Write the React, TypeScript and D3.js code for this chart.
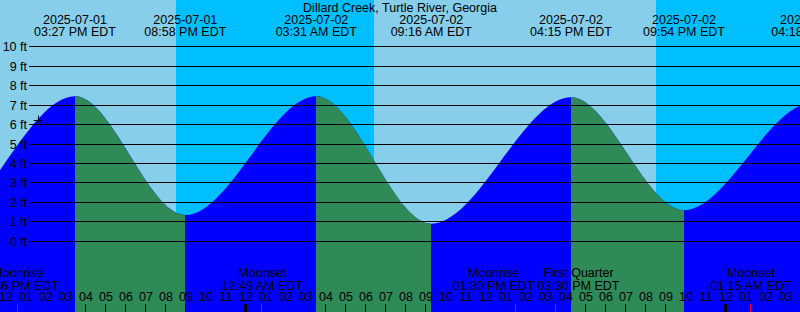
import React from "react";
import * as d3 from "d3";

const W = 800;
const H = 312;

const title = "Dillard Creek, Turtle River, Georgia";
const domainStart = "2025-07-01 11:42";
const domainEnd = "2025-07-03 03:42";

// Tide extremes (EDT)
const tideTimes = [
  "2025-07-01 02:05",
  "2025-07-01 08:15",
  "2025-07-01 15:27",
  "2025-07-01 20:58",
  "2025-07-02 03:31",
  "2025-07-02 09:16",
  "2025-07-02 16:15",
  "2025-07-02 21:54",
  "2025-07-03 04:18",
  "2025-07-03 10:30",
];
const tideHeights = [7.3, 0.3, 7.45, 1.35, 7.45, 0.9, 7.4, 1.6, 7.1, 0.8];

// Moon events
const moonTimes = [
  "2025-07-01 12:36",
  "2025-07-02 00:49",
  "2025-07-02 13:30",
  "2025-07-02 15:30",
  "2025-07-03 01:15",
];
const moonNames = ["Moonrise", "Moonset", "Moonrise", "First Quarter", "Moonset"];

// Sun
const sunsetTimes = ["2025-07-01 20:30", "2025-07-02 20:30"];
const sunriseTimes = ["2025-07-02 06:24", "2025-07-03 06:25"];

const heightTicks = [0, 1, 2, 3, 4, 5, 6, 7, 8, 9, 10];
const nowTime = "2025-07-01 13:35";

const parse = d3.utcParse("%Y-%m-%d %H:%M");
const fmtDate = d3.utcFormat("%Y-%m-%d");
const fmtTime = d3.utcFormat("%I:%M %p EDT");
const fmtHour = d3.utcFormat("%I");

const FONT = "'Liberation Sans', Arial, sans-serif";
const FS = 12.5;

export default function App() {
  const x = d3
    .scaleUtc()
    .domain([parse(domainStart)!, parse(domainEnd)!])
    .range([0, W]);
  const y = d3.scaleLinear().domain([0, 10]).range([241.3, 46.7]);

  const tides: [Date, number][] = tideTimes.map((t, i) => [parse(t)!, tideHeights[i]]);

  const area = d3
    .area<[Date, number]>()
    .x((d) => x(d[0]))
    .y0(H)
    .y1((d) => y(d[1]))
    .curve(d3.curveMonotoneX);
  const areaPath = area(tides) || "";

  // falling segments (high -> low)
  const falling: { x0: number; x1: number }[] = [];
  for (let i = 0; i < tides.length - 1; i++) {
    if (tides[i + 1][1] < tides[i][1]) {
      falling.push({ x0: Math.round(x(tides[i][0])), x1: Math.round(x(tides[i + 1][0])) });
    }
  }

  const nights = sunsetTimes.map((s, i) => ({
    x0: Math.round(x(parse(s)!)),
    x1: Math.round(x(parse(sunriseTimes[i])!)),
  }));

  const hours = x.ticks(d3.utcHour.every(1)!);

  // now marker
  const now = parse(nowTime)!;
  let nowH = tideHeights[0];
  for (let i = 0; i < tides.length - 1; i++) {
    const a = tides[i][0].getTime();
    const b = tides[i + 1][0].getTime();
    if (now.getTime() >= a && now.getTime() <= b) {
      const f = (now.getTime() - a) / (b - a);
      nowH = tides[i][1] + (tides[i + 1][1] - tides[i][1]) * (3 * f * f - 2 * f * f * f);
    }
  }
  const nx = x(now);
  const ny = y(nowH);

  // moon label positions with simple collision avoidance
  const moonX = moonTimes.map((t) => x(parse(t)!));
  const centers = [...moonX];
  const minSep = 85;
  for (let i = 1; i < centers.length; i++) {
    const gap = centers[i] - centers[i - 1];
    if (gap < minSep) {
      const d = (minSep - gap) / 2;
      centers[i - 1] -= d;
      centers[i] += d;
    }
  }

  return (
    <div style={{ position: "fixed", left: 0, top: 0 }}>
      <svg width={W} height={H} style={{ display: "block" }} fontFamily={FONT} fontSize={FS}>
        <defs>
          {falling.map((s, i) => (
            <clipPath id={`fall${i}`} key={i}>
              <rect x={s.x0} y={0} width={s.x1 - s.x0} height={H} />
            </clipPath>
          ))}
        </defs>
        <rect x={0} y={0} width={W} height={H} fill="#87CEEB" />
        {nights.map((n, i) => (
          <rect key={i} x={n.x0} y={0} width={n.x1 - n.x0} height={H} fill="#00BFFF" />
        ))}
        <path d={areaPath} fill="#0000FF" />
        {falling.map((s, i) => (
          <path key={i} d={areaPath} fill="#2E8B57" clipPath={`url(#fall${i})`} />
        ))}

        {heightTicks.map((v) => (
          <g key={v}>
            <line
              x1={29}
              x2={W}
              y1={y(v)}
              y2={y(v)}
              stroke="#000"
              strokeWidth={1}
              shapeRendering="crispEdges"
            />
            <text x={27} y={y(v) + 4.5} textAnchor="end" fill="#000">
              {`${v} ft`}
            </text>
          </g>
        ))}

        <text x={W / 2} y={12} textAnchor="middle" fill="#000">
          {title}
        </text>

        {tides.map((d, i) => (
          <g key={i}>
            <text x={x(d[0])} y={24} textAnchor="middle" fill="#000">
              {fmtDate(d[0])}
            </text>
            <text x={x(d[0])} y={36} textAnchor="middle" fill="#000">
              {fmtTime(d[0])}
            </text>
          </g>
        ))}

        {moonTimes.map((t, i) => (
          <g key={i}>
            <text x={centers[i]} y={277} textAnchor="middle" fill="#000">
              {moonNames[i]}
            </text>
            <text x={centers[i]} y={289.5} textAnchor="middle" fill="#000">
              {fmtTime(parse(t)!)}
            </text>
          </g>
        ))}

        {hours.map((h, i) => (
          <g key={i}>
            <text x={x(h)} y={301} textAnchor="middle" fill="#000">
              {fmtHour(h)}
            </text>
            {h.getUTCHours() === 0 ? (
              <rect x={Math.round(x(h)) - 2} y={304} width={3} height={8} fill="#000" />
            ) : (
              <line
                x1={Math.round(x(h)) - 0.5}
                x2={Math.round(x(h)) - 0.5}
                y1={304}
                y2={312}
                stroke="#000"
                strokeWidth={1}
              />
            )}
          </g>
        ))}

        {moonX.map((mx, i) => (
          <line
            key={i}
            x1={Math.round(mx) - 0.5}
            x2={Math.round(mx) - 0.5}
            y1={304}
            y2={312}
            stroke="#FF0000"
            strokeWidth={1}
          />
        ))}

        <g stroke="#000" strokeWidth={1}>
          <line x1={nx - 4} x2={nx + 4} y1={Math.round(ny) + 0.5} y2={Math.round(ny) + 0.5} />
          <line x1={Math.round(nx) + 0.5} x2={Math.round(nx) + 0.5} y1={ny - 4} y2={ny + 4} />
        </g>
      </svg>
    </div>
  );
}
